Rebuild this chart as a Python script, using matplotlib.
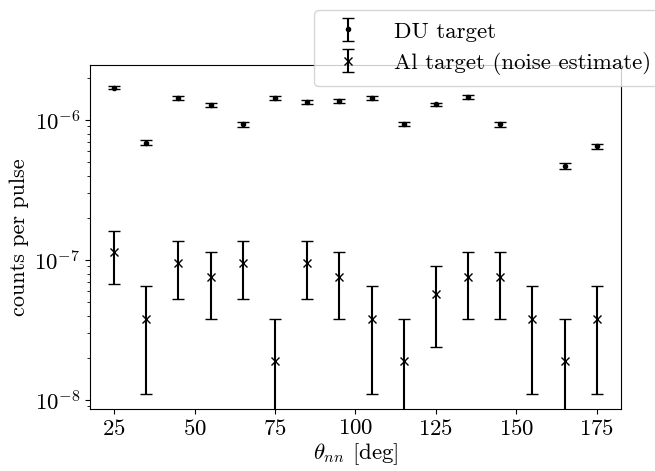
import numpy as np
import matplotlib
matplotlib.use("Agg")
import matplotlib.pyplot as plt

plt.rcParams['font.family'] = 'serif'
plt.rcParams['font.serif'] = ['cmr10']
plt.rcParams['mathtext.fontset'] = 'cm'
plt.rcParams['axes.formatter.use_mathtext'] = True

# DU target, counts per pulse vs. angle
du_theta = [25, 35, 45, 55, 65, 75, 85, 95, 105, 115, 125, 135, 145, 165, 175]
du_rate = [1.70e-6, 6.9e-7, 1.44e-6, 1.28e-6, 9.3e-7, 1.43e-6, 1.34e-6, 1.37e-6,
           1.44e-6, 9.4e-7, 1.29e-6, 1.46e-6, 9.3e-7, 4.7e-7, 6.5e-7]
du_err = [4.8e-8, 3.0e-8, 4.4e-8, 4.1e-8, 3.5e-8, 4.4e-8, 4.2e-8, 4.3e-8,
          4.4e-8, 3.5e-8, 4.1e-8, 4.4e-8, 3.5e-8, 2.5e-8, 2.9e-8]

# Al target (noise estimate)
al_theta = [25, 35, 45, 55, 65, 75, 85, 95, 105, 115, 125, 135, 145, 155, 165, 175]
al_rate = [1.14e-7, 3.8e-8, 9.5e-8, 7.6e-8, 9.5e-8, 1.9e-8, 9.5e-8, 7.6e-8,
           3.8e-8, 1.9e-8, 5.7e-8, 7.6e-8, 7.6e-8, 3.8e-8, 1.9e-8, 3.8e-8]
al_err = [4.65e-8, 2.69e-8, 4.25e-8, 3.8e-8, 4.25e-8, 1.9e-8, 4.25e-8, 3.8e-8,
          2.69e-8, 1.9e-8, 3.29e-8, 3.8e-8, 3.8e-8, 2.69e-8, 1.9e-8, 2.69e-8]

fig = plt.figure(figsize=(6.55, 4.71), dpi=100)
ax = fig.add_axes([0.1374, 0.1316, 0.8106, 0.7304])

ax.errorbar(du_theta, du_rate, yerr=du_err, fmt='.', color='k', capsize=4,
            label='DU target')
ax.errorbar(al_theta, al_rate, yerr=al_err, fmt='x', color='k', capsize=4,
            label='Al target (noise estimate)')

ax.set_yscale('log')
ax.set_xlim(17.5, 182.5)
ax.set_ylim(8.62e-9, 2.47e-6)
ax.set_xticks([25, 50, 75, 100, 125, 150, 175])
ax.tick_params(labelsize=16.5)
ax.set_xlabel(r'$\theta_{nn}$ [deg]', fontsize=16.5, labelpad=2)
ax.set_ylabel('counts per pulse', fontsize=16)

fig.legend(loc='upper left', bbox_to_anchor=(314 / 655, 1 - 10 / 471),
           borderaxespad=0, fontsize=16.5, labelspacing=0.45,
           borderpad=0.5, handletextpad=1.0)

fig.savefig('out.png', dpi=100)
